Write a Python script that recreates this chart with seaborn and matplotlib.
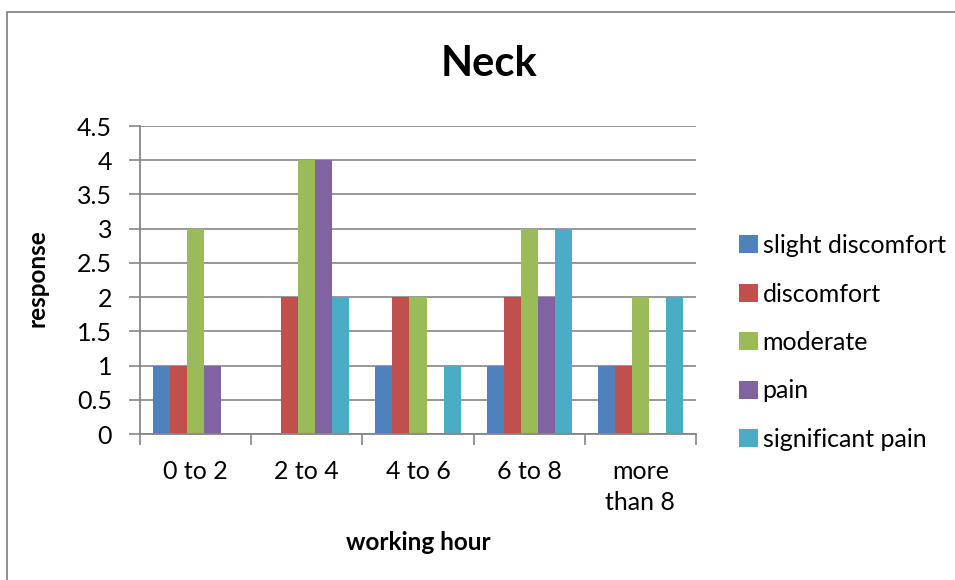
import matplotlib
matplotlib.use("Agg")
import matplotlib.pyplot as plt
import matplotlib.patches as mpatches
import seaborn as sns
import pandas as pd
import numpy as np

categories = ["0 to 2", "2 to 4", "4 to 6", "6 to 8", "more\nthan 8"]
series = ["slight discomfort", "discomfort", "moderate", "pain", "significant pain"]
slight_discomfort = [1, 0, 1, 1, 1]
discomfort = [1, 2, 2, 2, 1]
moderate = [3, 4, 2, 3, 2]
pain = [1, 4, 0, 2, 0]
significant_pain = [0, 2, 1, 3, 2]
y_ticks = [0, 0.5, 1, 1.5, 2, 2.5, 3, 3.5, 4, 4.5]

colors = ["#4F81BD", "#C0504D", "#9BBB59", "#8064A2", "#4BACC6"]

values = [slight_discomfort, discomfort, moderate, pain, significant_pain]
rows = []
for name, vals in zip(series, values):
    for cat, v in zip(categories, vals):
        rows.append({"working hour": cat, "response": v, "level": name})
df = pd.DataFrame(rows)

sns.set_theme(style="white")
plt.rcParams["font.family"] = ["Lato", "DejaVu Sans"]
plt.rcParams["text.color"] = "black"

fig = plt.figure(figsize=(9.55, 5.8), dpi=100)
ax = fig.add_axes([140 / 955, 1 - 434 / 580, 556 / 955, 308 / 580])

sns.barplot(data=df, x="working hour", y="response", hue="level",
            order=categories, hue_order=series, palette=colors,
            width=0.765, saturation=1, linewidth=0, ax=ax, legend=False)

ax.set_ylim(0, 4.5)
ax.set_xlim(-0.5, len(categories) - 0.5)
ax.set_yticks(y_ticks)
ax.set_yticklabels([f"{t:g}" for t in y_ticks])
ax.yaxis.grid(True, color="#868686", linewidth=1.2)
ax.set_axisbelow(True)

grey = "#868686"
for side in ["top", "right"]:
    ax.spines[side].set_visible(False)
for side in ["left", "bottom"]:
    ax.spines[side].set_color(grey)
    ax.spines[side].set_linewidth(1.3)

ax.tick_params(axis="y", which="major", left=True, length=8, width=1.2,
               color=grey, labelsize=18, pad=12, labelcolor="black")
ax.tick_params(axis="x", which="major", bottom=False, labelsize=18, pad=13,
               labelcolor="black")
ax.set_xticks(np.arange(-0.5, len(categories), 1), minor=True)
ax.tick_params(axis="x", which="minor", bottom=True, length=8, width=1.2,
               color=grey)
for lbl in ax.get_xticklabels():
    lbl.set_linespacing(1.4)

ax.set_xlabel("")
ax.set_ylabel("")
fig.text(37 / 955, 1 - 278 / 580, "response", rotation=90, ha="center",
         va="center", fontsize=17.5, fontweight="bold")
fig.text(418 / 955, 1 - 543 / 580, "working hour", ha="center", va="center",
         fontsize=17.5, fontweight="bold")
fig.text(489 / 955, 1 - 64 / 580, "Neck", ha="center", va="center",
         fontsize=30, fontweight="bold")

handles = [mpatches.Patch(facecolor=c, edgecolor="none", label=s)
           for c, s in zip(colors, series)]
fig.legend(handles=handles, loc="upper left",
           bbox_to_anchor=(729 / 955, 1 - 224 / 580), frameon=False,
           fontsize=18, handlelength=0.75, handleheight=0.75,
           handletextpad=0.2, labelspacing=1.02, borderaxespad=0,
           labelcolor="black")

# chart-area frame
fig.patches.append(mpatches.Rectangle((7 / 955, -0.05), 1.0, 1 - 12 / 580 + 0.05,
                                      transform=fig.transFigure, fill=False,
                                      edgecolor=grey, linewidth=1.3))

fig.savefig("out.png", dpi=100)
